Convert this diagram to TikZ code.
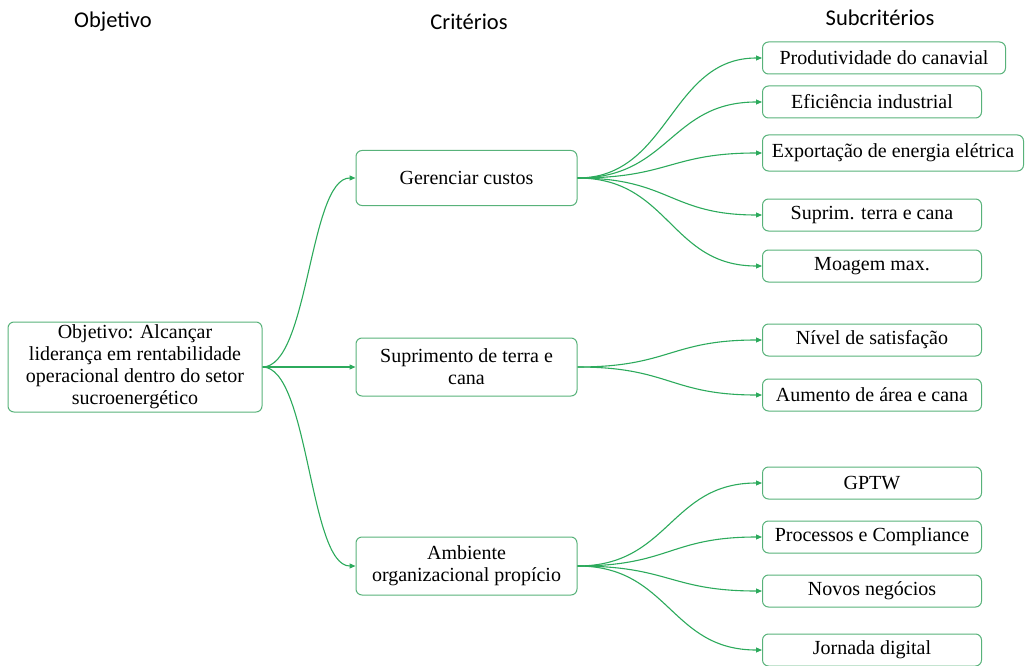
\documentclass[tikz,border=0pt]{standalone}
\usepackage{fontspec}
\setmainfont{Liberation Serif}
\newfontfamily\hdrfont{Carlito}
\usetikzlibrary{arrows.meta,calc}
\definecolor{boxgreen}{RGB}{88,178,122}
\definecolor{linegreen}{RGB}{44,170,92}
\begin{document}
\begin{tikzpicture}[x=1pt,y=-1pt,
  box/.style={draw=boxgreen,line width=1pt,rounded corners=6pt,align=center,
    font=\fontsize{20}{22}\selectfont,inner sep=1pt},
  subbox/.style={box,anchor=west,minimum width=219pt,minimum height=32pt},
  critbox/.style={box,minimum width=221pt},
  hdr/.style={font=\hdrfont\fontsize{22.5}{26}\selectfont},
  edge/.style={draw=linegreen,line width=1.1pt,-{Triangle[length=6pt,width=5pt]}}]
\useasboundingbox (0,0) rectangle (1028,666);
% headers
\node[hdr] (h1) at (113,22) {Objetivo};
\node[hdr] (h2) at (469,22) {Critérios};
\node[hdr] (h3) at (880,18) {Subcritérios};
% root
\node[box,minimum width=254pt,minimum height=90pt] (root) at (135,367)
  {Objetivo: Alcançar\\liderança em rentabilidade\\operacional dentro do setor\\sucroenergético};
% criteria
\node[critbox,minimum height=55pt] (c1) at (466.5,178) {Gerenciar custos};
\node[critbox,minimum height=58pt] (c2) at (466.5,367) {Suprimento de terra e\\cana};
\node[critbox,minimum height=58pt] (c3) at (466.5,566) {Ambiente\\organizacional propício};
% subcriteria
\node[subbox,minimum width=243pt] (s1) at (762,58) {Produtividade do canavial};
\node[subbox] (s2) at (762,102) {Eficiência industrial};
\node[subbox,minimum width=261pt,minimum height=36pt] (s3) at (762,153) {Exportação de energia elétrica};
\node[subbox] (s4) at (762,215) {Suprim. terra e cana};
\node[subbox] (s5) at (762,266) {Moagem max.};
\node[subbox] (s6) at (762,340) {Nível de satisfação};
\node[subbox] (s7) at (762,395) {Aumento de área e cana};
\node[subbox] (s8) at (762,483) {GPTW};
\node[subbox] (s9) at (762,537) {Processos e Compliance};
\node[subbox] (s10) at (762,591) {Novos negócios};
\node[subbox] (s11) at (762,650) {Jornada digital};
% connectors
\foreach \a/\b in {root/c1,root/c2,root/c3,c1/s1,c1/s2,c1/s3,c1/s4,c1/s5,c2/s6,c2/s7,c3/s8,c3/s9,c3/s10,c3/s11}{
  \path (\a.east) coordinate (p1) (\b.west) coordinate (p2);
  \path ($(p1)!0.5!(p2)$) coordinate (pm);
  \draw[edge] (p1) .. controls (pm |- p1) and (pm |- p2) .. (p2);
}
\end{tikzpicture}
\end{document}
